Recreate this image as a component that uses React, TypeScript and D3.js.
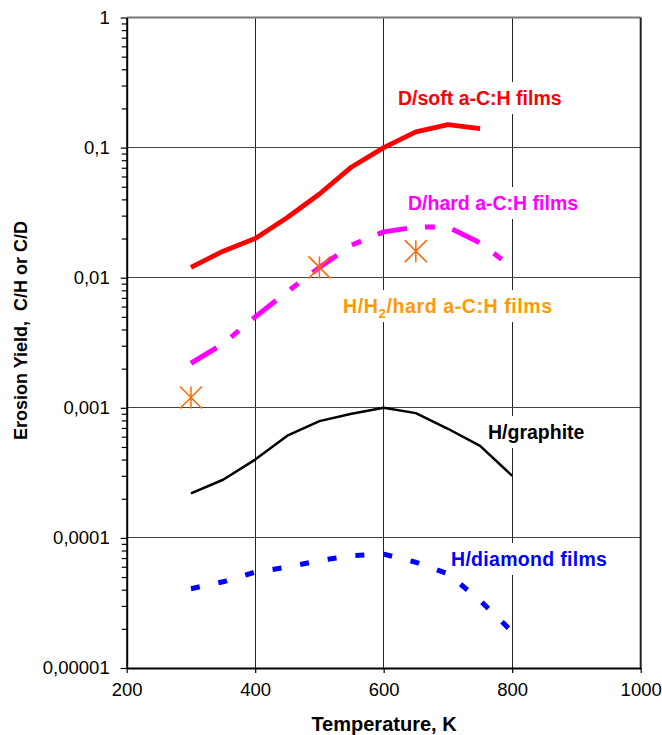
import React, { useEffect, useRef } from 'react';
import * as d3 from 'd3';

// ---- data ----
const temps = [300, 350, 400, 450, 500, 550, 600, 650, 700, 750, 800];
const softTemps = [300, 350, 400, 450, 500, 550, 600, 650, 700, 750];
const softYield = [0.012, 0.016, 0.02, 0.029, 0.044, 0.071, 0.1, 0.132, 0.15, 0.14];
const hardYield = [0.0022, 0.0031, 0.005, 0.0078, 0.012, 0.0178, 0.0225, 0.0245, 0.0245, 0.0185, 0.012];
const graphiteYield = [0.00022, 0.00028, 0.0004, 0.00061, 0.00079, 0.0009, 0.001, 0.00091, 0.00069, 0.00051, 0.0003];
const diamondYield = [0.0000407, 0.000046, 0.0000546, 0.0000596, 0.000067, 0.000073, 0.000075, 0.000065, 0.000053, 0.000033, 0.000019];
const h2Temps = [300, 500, 650];
const h2Yield = [0.0012, 0.012, 0.016];

const xTicks = [200, 400, 600, 800, 1000];
const yTicks = [0.00001, 0.0001, 0.001, 0.01, 0.1, 1];
const xGrid = [400, 600, 800];
const yGrid = [0.0001, 0.001, 0.01, 0.1];

const FONT = 'Arial, "Liberation Sans", Helvetica, sans-serif';

export default function App() {
  const ref = useRef<SVGSVGElement>(null);

  useEffect(() => {
    const svg = d3.select(ref.current);
    svg.selectAll('*').remove();

    const left = 126.7, right = 640.7, top = 17.5, bottom = 668;
    const x = d3.scaleLinear().domain([200, 1000]).range([left, right]);
    const y = d3.scaleLog().domain([1e-5, 1]).range([bottom, top]);

    svg.append('rect').attr('width', 662).attr('height', 735).attr('fill', '#fff');

    // grid
    const grid = svg.append('g').attr('shape-rendering', 'crispEdges');
    grid.selectAll('line.v').data(xGrid).join('line')
      .attr('x1', d => x(d)).attr('x2', d => x(d)).attr('y1', top).attr('y2', bottom)
      .attr('stroke', '#222').attr('stroke-width', 1);
    grid.selectAll('line.h').data(yGrid).join('line').attr('class', 'h')
      .attr('x1', left).attr('x2', right).attr('y1', d => y(d)).attr('y2', d => y(d))
      .attr('stroke', '#444').attr('stroke-width', 1);

    // label boxes (white) + text
    type Lab = { parts: { t: string; sub?: boolean }[]; x: number; y: number; color: string; ls?: number };
    const labels: Lab[] = [
      { parts: [{ t: 'D/soft a-C:H films' }], x: 398, y: 98, color: '#FF0000' },
      { parts: [{ t: 'D/hard a-C:H films' }], x: 408, y: 203, color: '#FF00FF' },
      { parts: [{ t: 'H/H' }, { t: '2', sub: true }, { t: '/hard a-C:H films' }], x: 343, y: 306, color: '#FF9900', ls: 0.6 },
      { parts: [{ t: 'H/graphite' }], x: 488, y: 432, color: '#000000' },
      { parts: [{ t: 'H/diamond films' }], x: 451, y: 559, color: '#0000FF', ls: 0.3 },
    ];
    const boxG = svg.append('g');
    const lineG = svg.append('g');
    const textG = svg.append('g');

    labels.forEach(l => {
      const t = textG.append('text')
        .attr('x', l.x).attr('y', l.y + 7)
        .attr('font-family', FONT).attr('font-weight', 'bold').attr('font-size', 19.5)
        .attr('letter-spacing', l.ls ?? 0)
        .attr('fill', l.color);
      l.parts.forEach((p, i) => {
        if (p.sub) {
          t.append('tspan').attr('font-size', 13.5).attr('dy', 5).text(p.t);
        } else {
          const ts = t.append('tspan').text(p.t);
          if (i > 0) ts.attr('dy', -5);
        }
      });
      const bb = (t.node() as SVGTextElement).getBBox();
      boxG.append('rect')
        .attr('x', bb.x - 5).attr('y', l.y - 16).attr('width', bb.width + 10).attr('height', 32)
        .attr('fill', '#fff');
    });

    // series lines
    const line = d3.line<[number, number]>().x(d => x(d[0])).y(d => y(d[1]));
    const series = [
      { t: softTemps, v: softYield, color: '#FF0000', w: 4.8, dash: null },
      { t: temps, v: hardYield, color: '#FF00FF', w: 5, dash: '30,18,10,18' },
      { t: temps, v: graphiteYield, color: '#000000', w: 2.5, dash: null },
      { t: temps, v: diamondYield, color: '#0000FF', w: 5, dash: '9,19' },
    ];
    series.forEach(s => {
      const pts = s.t.map((tt, i) => [tt, s.v[i]] as [number, number]);
      lineG.append('path')
        .attr('d', line(pts) as string)
        .attr('fill', 'none').attr('stroke', s.color).attr('stroke-width', s.w)
        .attr('stroke-linejoin', 'round').attr('stroke-linecap', 'butt')
        .attr('stroke-dasharray', s.dash as any);
    });

    // asterisks
    const r = 11;
    lineG.selectAll('path.star').data(h2Temps.map((tt, i) => [tt, h2Yield[i]])).join('path')
      .attr('class', 'star')
      .attr('transform', d => `translate(${x(d[0])},${y(d[1])})`)
      .attr('d', `M0,${-r}L0,${r}M${-r},${-r}L${r},${r}M${-r},${r}L${r},${-r}`)
      .attr('fill', 'none').attr('stroke', '#FF6600').attr('stroke-width', 1.5);

    // frame
    svg.append('line').attr('x1', left).attr('x2', right).attr('y1', top).attr('y2', top)
      .attr('stroke', '#777').attr('stroke-width', 2);
    svg.append('line').attr('x1', right).attr('x2', right).attr('y1', top).attr('y2', bottom)
      .attr('stroke', '#222').attr('stroke-width', 2);

    // y axis
    const minor: number[] = [];
    for (let e = -5; e < 0; e++) for (let k = 2; k <= 9; k++) minor.push(k * Math.pow(10, e));
    const yMinor = svg.append('g').attr('transform', `translate(${left},0)`)
      .call(d3.axisLeft(y).tickValues(minor).tickSize(5).tickSizeOuter(0).tickFormat(() => ''));
    yMinor.select('.domain').remove();
    yMinor.selectAll('line').attr('stroke', '#000').attr('stroke-width', 1.2);

    const yAx = svg.append('g').attr('transform', `translate(${left},0)`)
      .call(d3.axisLeft(y).tickValues(yTicks).tickSize(6).tickSizeOuter(0).tickPadding(11)
        .tickFormat(d => String(d).replace('.', ',')));
    yAx.select('.domain').attr('stroke', '#000').attr('stroke-width', 2);
    yAx.selectAll('line').attr('stroke', '#000').attr('stroke-width', 1.2);
    yAx.selectAll('text').attr('font-family', FONT).attr('font-size', 18.5).attr('fill', '#000');

    // x axis
    const xAx = svg.append('g').attr('transform', `translate(0,${bottom})`)
      .call(d3.axisBottom(x).tickValues(xTicks).tickSize(5).tickSizeOuter(0).tickPadding(10)
        .tickFormat(d => String(d)));
    xAx.select('.domain').attr('stroke', '#000').attr('stroke-width', 2);
    xAx.selectAll('line').attr('stroke', '#000').attr('stroke-width', 1.2);
    xAx.selectAll('text').attr('font-family', FONT).attr('font-size', 18.5).attr('fill', '#000');

    // titles
    svg.append('text')
      .attr('x', 384).attr('y', 731).attr('text-anchor', 'middle')
      .attr('font-family', FONT).attr('font-weight', 'bold').attr('font-size', 20)
      .text('Temperature, K');
    svg.append('text')
      .attr('transform', 'translate(27,330.5) rotate(-90)')
      .attr('text-anchor', 'middle')
      .attr('font-family', FONT).attr('font-weight', 'bold').attr('font-size', 18)
      .style('white-space', 'pre')
      .text('Erosion Yield,  C/H or C/D');
  }, []);

  return (
    <svg
      ref={ref}
      width={662}
      height={735}
      style={{ position: 'absolute', left: 0, top: 0, display: 'block' }}
    />
  );
}
